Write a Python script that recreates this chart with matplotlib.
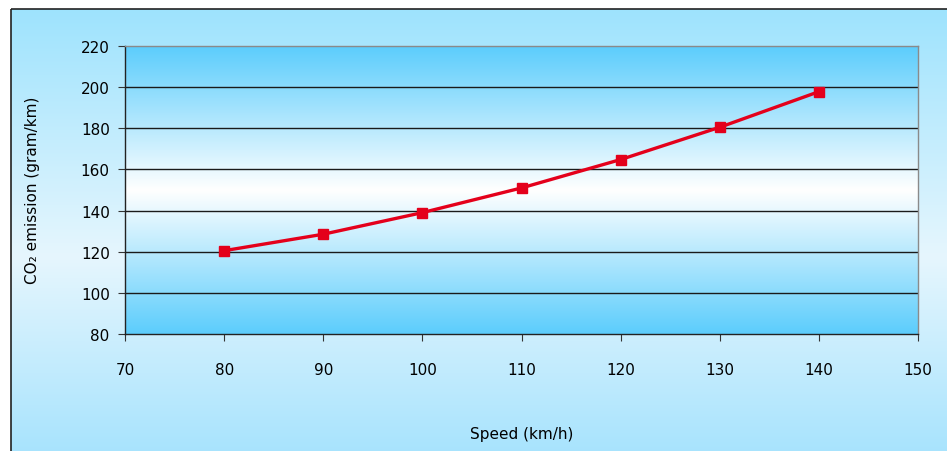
import numpy as np
import matplotlib.pyplot as plt
from matplotlib.colors import LinearSegmentedColormap
from matplotlib.patches import Rectangle

# speed (km/h) vs CO2 emission (gram/km)
speed = [80, 90, 100, 110, 120, 130, 140]
co2 = [120.5, 128.5, 139, 151, 164.8, 180.5, 197.8]

x_ticks = [70, 80, 90, 100, 110, 120, 130, 140, 150]
y_ticks = [80, 100, 120, 140, 160, 180, 200, 220]

plt.rcParams["font.family"] = "DejaVu Sans"
plt.rcParams["font.size"] = 10

fig = plt.figure(figsize=(9.47, 4.52), dpi=100)

# outer chart background: cyan -> pale -> cyan
bg = fig.add_axes([0, 0, 1, 1], zorder=0)
bg.set_xlim(0, 947)
bg.set_ylim(452, 0)
bg.axis("off")
outer_cmap = LinearSegmentedColormap.from_list(
    "outer", [(0.0, "#9ee3fd"), (0.55, "#e6f6fe"), (1.0, "#a6e3fd")])
grad = np.linspace(0, 1, 256).reshape(-1, 1)
bg.imshow(grad, cmap=outer_cmap, aspect="auto", extent=[11, 960, 460, 10],
          interpolation="bicubic")
bg.add_patch(Rectangle((11, 10), 960, 460, fill=False, edgecolor="#222222", lw=1.2))

ax = fig.add_axes([125 / 947, 1 - 335 / 452, 793 / 947, 288 / 452], zorder=1)
ax.set_xlim(70, 150)
ax.set_ylim(80, 220)

# plot area: blue at top and bottom, white in the middle
inner_cmap = LinearSegmentedColormap.from_list(
    "inner", [(0.0, "#5ccdfc"), (0.5, "#ffffff"), (1.0, "#5ccdfc")])
ax.imshow(grad, cmap=inner_cmap, aspect="auto", extent=[70, 150, 80, 220],
          interpolation="bicubic", zorder=0)

for y in y_ticks[1:-1]:
    ax.axhline(y, color="#1a1a1a", lw=1.0, zorder=1)

ax.plot(speed, co2, color="#e4001b", lw=2.4, marker="s", markersize=6.5,
        markerfacecolor="#e4001b", markeredgecolor="#e4001b", zorder=3,
        clip_on=False)

ax.set_xticks(x_ticks)
ax.set_yticks(y_ticks)
ax.tick_params(axis="x", direction="out", length=5, pad=15, labelsize=11,
               color="#333333")
ax.tick_params(axis="y", direction="out", length=5, pad=6, labelsize=11,
               color="#333333")

ax.spines["left"].set_color("#222222")
ax.spines["bottom"].set_color("#222222")
ax.spines["top"].set_color("#8a8a8a")
ax.spines["right"].set_color("#8a8a8a")
for s in ax.spines.values():
    s.set_linewidth(1.0)

fig.text(522 / 947, 1 - 435 / 452, "Speed (km/h)", ha="center", va="center",
         fontsize=11)
fig.text(33 / 947, 1 - 190 / 452, "CO\u2082 emission (gram/km)", ha="center",
         va="center", rotation=90, fontsize=11)

fig.savefig("out.png", dpi=100)
